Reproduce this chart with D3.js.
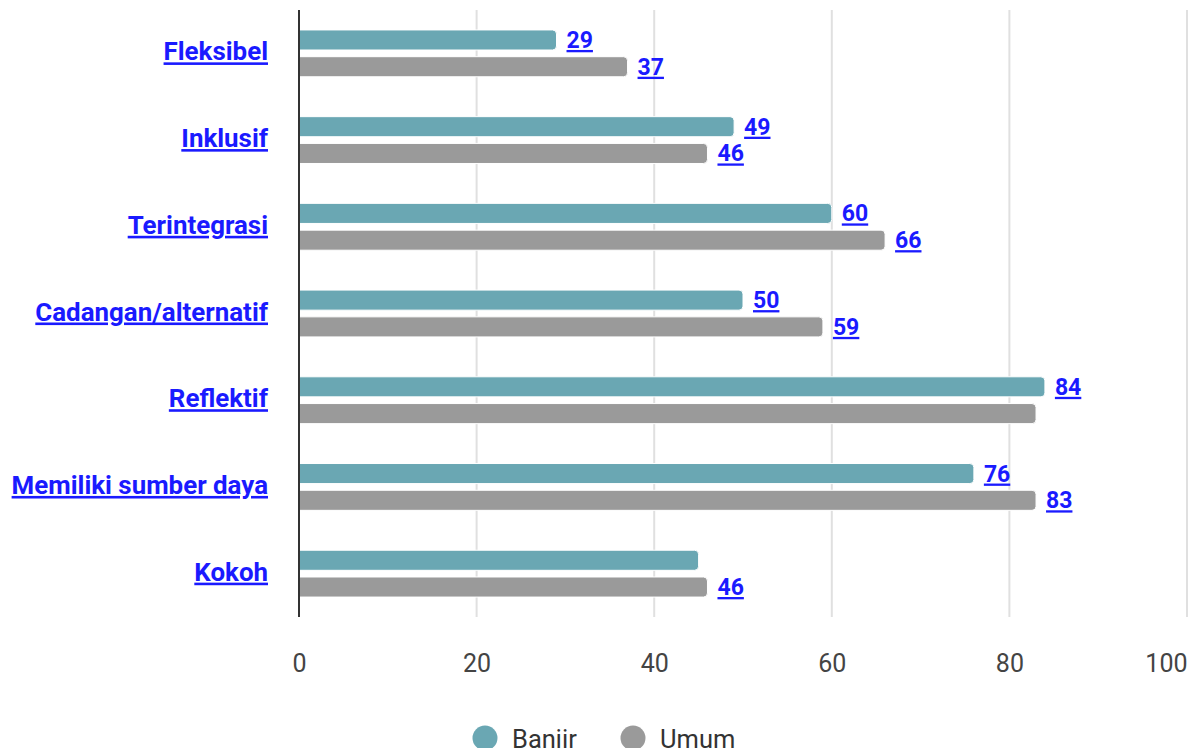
<!DOCTYPE html>
<html>
<head>
<meta charset="utf-8">
<script src="https://cdn.jsdelivr.net/npm/d3@7"></script>
<style>
  html, body { margin: 0; padding: 0; background: #fff; overflow: hidden; }
  svg { display: block; font-family: Roboto, "Noto Sans", sans-serif; }
  .cat, .val { text-decoration: underline; fill: #1a1aff; font-weight: bold; }
</style>
</head>
<body>
<svg id="chart" width="1193" height="748"></svg>
<script>
const categories = ["Fleksibel", "Inklusif", "Terintegrasi", "Cadangan/alternatif", "Reflektif", "Memiliki sumber daya", "Kokoh"];
const seriesNames = ["Banjir", "Umum"];
const banjir = [29, 49, 60, 50, 84, 76, 45];
const umum = [37, 46, 66, 59, 83, 83, 46];
// labelled values (null = no label shown)
const banjirLabels = [29, 49, 60, 50, 84, 76, null];
const umumLabels = [37, 46, 66, 59, null, 83, 46];
const xTicks = [0, 20, 40, 60, 80, 100];
const colors = ["#6aa7b3", "#9a9a9a"];

const svg = d3.select("#chart");
const margin = { left: 299, right: 6, top: 10, bottom: 131 };
const W = 1193, H = 748;

const x = d3.scaleLinear().domain([0, 100]).range([margin.left, W - margin.right]);
const y = d3.scaleBand().domain(categories).range([margin.top, H - margin.bottom]).paddingInner(0.46).paddingOuter(0.23);
const ys = d3.scaleBand().domain(seriesNames).range([0, y.bandwidth()]).paddingInner(0.25);

// gridlines
svg.append("g")
  .selectAll("line")
  .data(xTicks.filter(d => d > 0))
  .join("line")
  .attr("x1", d => x(d)).attr("x2", d => x(d))
  .attr("y1", margin.top).attr("y2", H - margin.bottom)
  .attr("stroke", "#e0e0e0").attr("stroke-width", 2);

// bar shape with rounded right end
function barPath(x0, x1, y0, h, r) {
  r = Math.min(r, (x1 - x0), h / 2);
  return `M${x0},${y0}H${x1 - r}Q${x1},${y0} ${x1},${y0 + r}V${y0 + h - r}Q${x1},${y0 + h} ${x1 - r},${y0 + h}H${x0}Z`;
}

const data = [banjir, umum];
const labels = [banjirLabels, umumLabels];

seriesNames.forEach((s, si) => {
  const g = svg.append("g");
  g.selectAll("path")
    .data(categories)
    .join("path")
    .attr("d", (c, i) => barPath(x(0), x(data[si][i]), y(c) + ys(s), ys.bandwidth(), 4))
    .attr("fill", colors[si])
    .attr("stroke", "#fff").attr("stroke-width", 1);

  g.selectAll("text")
    .data(categories.map((c, i) => ({ c, v: labels[si][i], bar: data[si][i] })).filter(d => d.v !== null))
    .join("text")
    .attr("class", "val")
    .attr("x", d => x(d.bar) + 10)
    .attr("y", d => y(d.c) + ys(s) + ys.bandwidth() / 2 + 8)
    .attr("font-size", 23)
    .text(d => d.v);
});

// category axis line
svg.append("line")
  .attr("x1", x(0)).attr("x2", x(0))
  .attr("y1", margin.top).attr("y2", H - margin.bottom)
  .attr("stroke", "#333").attr("stroke-width", 2);

// category labels
svg.append("g")
  .selectAll("text")
  .data(categories)
  .join("text")
  .attr("class", "cat")
  .attr("x", 268)
  .attr("y", c => y(c) + y.bandwidth() / 2 + 7)
  .attr("text-anchor", "end")
  .attr("font-size", 25.9)
  .text(c => c);

// x axis tick labels
const xAxis = d3.axisBottom(x).tickValues(xTicks).tickSize(0).tickPadding(0);
const ax = svg.append("g").attr("transform", "translate(0,672)").call(xAxis);
ax.select(".domain").remove();
ax.selectAll("text")
  .attr("font-size", 25).attr("fill", "#444").attr("font-family", "Roboto, sans-serif")
  .attr("dy", 0).attr("y", 0)
  .attr("text-anchor", d => d === 100 ? "end" : "middle");

// legend
const legend = svg.append("g").attr("transform", "translate(0,738)");
const legendX = [485, 633];
seriesNames.forEach((s, i) => {
  legend.append("circle").attr("cx", legendX[i]).attr("cy", 0).attr("r", 12.5).attr("fill", colors[i]);
  legend.append("text").attr("x", legendX[i] + 27).attr("y", 10)
    .attr("font-size", 25.5).attr("fill", "#333").text(s);
});
</script>
</body>
</html>
